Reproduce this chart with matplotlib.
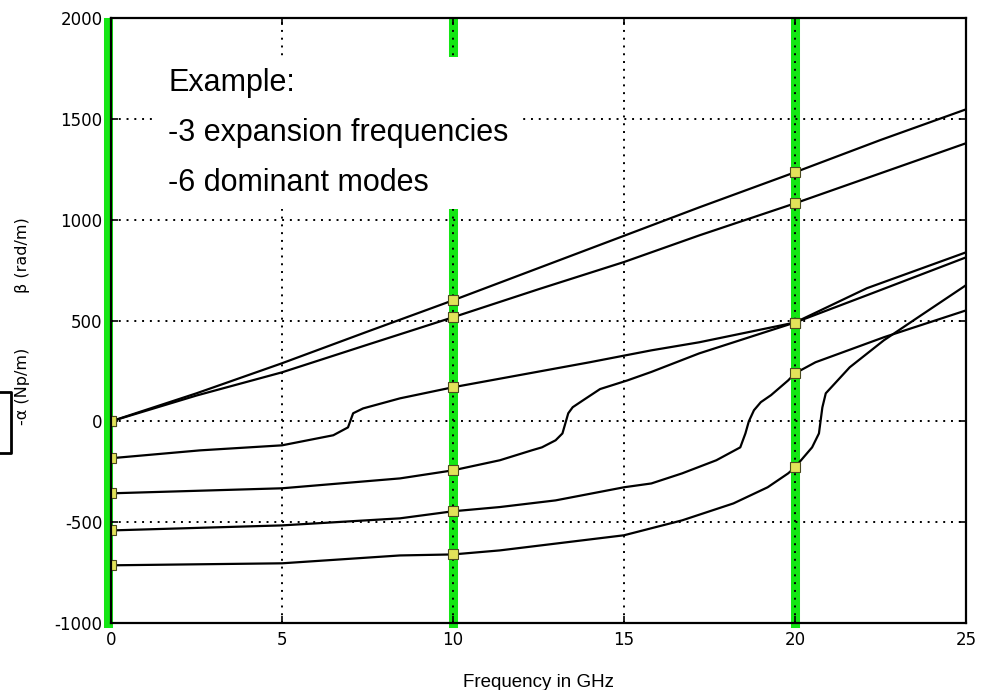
import numpy as np
import matplotlib.pyplot as plt
from matplotlib.lines import Line2D

plt.rcParams['axes.unicode_minus'] = False

# frequency samples (GHz) and values, one curve per mode
f_a = [0, 2.5, 5, 7.5, 10, 12.5, 15, 17.2, 20, 22.5, 25]
v_a = [0, 139, 288, 445, 600, 760, 920, 1061, 1235, 1395, 1547]

f_b = [0, 2.5, 5, 7.5, 10, 12.5, 15, 17.2, 20, 22.5, 25]
v_b = [0, 128, 243, 380, 516, 655, 790, 922, 1081, 1230, 1379]

f_c = [0, 2.6, 5, 6.5, 6.93, 7.08, 7.37, 8.45, 10, 12, 14, 15.8, 17.2, 20, 22.1, 25]
v_c = [-183, -144, -119, -69, -30, 40, 64, 114, 169, 231, 293, 352, 392, 490, 625, 813]

f_d = [0, 5, 8.45, 10, 11.37, 12.3, 12.6, 13.0, 13.2, 13.37, 13.5, 13.8, 14.3, 15.1, 15.8, 17.2, 20, 22.1, 25]
v_d = [-357, -332, -283, -243, -193, -144, -129, -94, -60, 40, 70, 104, 160, 203, 245, 337, 490, 660, 838]

f_e = [0, 5, 8.45, 10, 11.37, 13, 15, 15.8, 16.7, 17.7, 18.4, 18.55, 18.65, 18.8, 19.0, 19.3, 19.8, 20, 20.6, 22.6, 25]
v_e = [-541, -516, -481, -446, -425, -392, -327, -308, -258, -193, -129, -60, 0, 55, 95, 130, 203, 238, 293, 417, 550]

f_f = [0, 5, 8.45, 10, 11.37, 15, 16.7, 18.2, 19.2, 19.8, 20, 20.5, 20.7, 20.8, 20.9, 21.6, 22.6, 23.6, 25]
v_f = [-714, -704, -665, -660, -640, -565, -491, -407, -327, -258, -228, -129, -60, 69, 139, 268, 402, 516, 675]

modes = [(f_a, v_a), (f_b, v_b), (f_c, v_c), (f_d, v_d), (f_e, v_e), (f_f, v_f)]
expansion_freqs = [0, 10, 20]

fig = plt.figure(figsize=(9.9, 6.9), dpi=100)
ax = fig.add_axes([111/990, 1-623/690, (966-111)/990, (623-18)/690])

green = '#14e614'
for fe in expansion_freqs:
    xg = fe - 0.09 if fe == 0 else fe
    ax.axvline(xg, ymin=0, ymax=0.993, color=green, lw=6.5, zorder=1, clip_on=False)

ax.grid(True, color='black', linestyle=(0, (1, 3)), linewidth=1.4, zorder=2)

for f, v in modes:
    idx = [f.index(fe) for fe in expansion_freqs]
    ax.plot(f, v, color='black', lw=1.6, zorder=4,
            marker='s', markevery=idx, markersize=6.5,
            markerfacecolor='#e2e25a', markeredgecolor='#4a4a20', markeredgewidth=0.8)

ax.set_xlim(0, 25)
ax.set_ylim(-1000, 2000)
ax.set_xticks([0, 5, 10, 15, 20, 25])
ax.set_yticks(np.arange(-1000, 2001, 500))
ax.set_axisbelow(False)
ax.tick_params(direction='in', length=5, width=1.2, top=True, right=True,
               labelsize=12, pad=6)
for s in ax.spines.values():
    s.set_linewidth(1.6)
    s.set_zorder(5)

ax.text(1.67, 1752, 'Example:\n-3 expansion frequencies\n-6 dominant modes',
        fontsize=22, family='Liberation Sans',
        va='top', ha='left', zorder=6, linespacing=1.86,
        bbox=dict(facecolor='white', edgecolor='none', pad=8))

ax.set_xlabel('Frequency in GHz', fontsize=13.5, family='Liberation Sans', labelpad=18)

fig.text(23/990, 1-255/690, 'β (rad/m)', rotation=90, ha='center', va='center', fontsize=11.5)
fig.text(23/990, 1-386/690, '-α (Np/m)', rotation=90, ha='center', va='center', fontsize=11.5)

bx = [0, 11/990, 11/990, 0]
by = [1-392/690, 1-392/690, 1-453/690, 1-453/690]
fig.add_artist(Line2D(bx, by, color='black', lw=2, transform=fig.transFigure))

fig.savefig('out.png', dpi=100)
